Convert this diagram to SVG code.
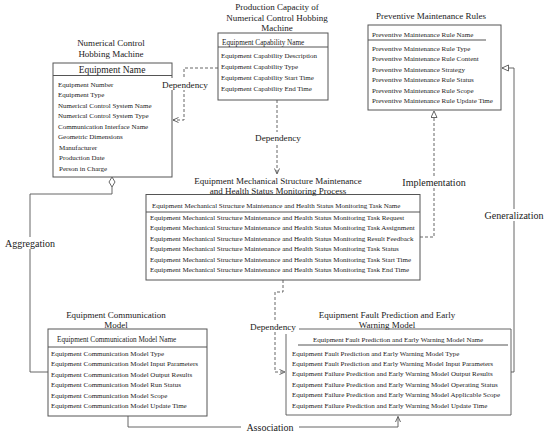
<svg xmlns="http://www.w3.org/2000/svg" width="550" height="437" viewBox="0 0 550 437">
<defs>
<style>
text{font-family:"Liberation Serif","Times New Roman",serif;fill:#1a1a1a}
.box{fill:#fff;stroke:#555;stroke-width:1}
.div{stroke:#555;stroke-width:1}
.t{font-size:9px;text-anchor:middle}
.h{font-size:7.2px}
.r{font-size:7px}
.lbl{font-size:10px;text-anchor:middle}
.dep{font-size:9.2px;text-anchor:middle}
.c{fill:none;stroke:#555;stroke-width:0.9}
.d{fill:none;stroke:#555;stroke-width:0.9;stroke-dasharray:3,2}
.bg{fill:#fff}
</style>
<marker id="open" markerWidth="7" markerHeight="6" refX="6" refY="3" orient="auto" markerUnits="userSpaceOnUse">
<path d="M0.5,0.5 L6,3 L0.5,5.5" fill="none" stroke="#555" stroke-width="0.9"/>
</marker>
<marker id="tri" markerWidth="8" markerHeight="8" refX="7" refY="3.5" orient="auto" markerUnits="userSpaceOnUse">
<path d="M0.5,0.5 L7,3.5 L0.5,6.5 Z" fill="#fff" stroke="#555" stroke-width="0.9"/>
</marker>
</defs>
<rect width="550" height="437" fill="#fff"/>

<g id="node-hobbing-machine">
<text class="t" x="111" y="46">Numerical Control</text>
<text class="t" x="111" y="56.5">Hobbing Machine</text>
<rect class="box" x="53" y="63" width="119" height="114"/>
<line class="div" x1="53" y1="75.5" x2="172" y2="75.5"/>
<text x="112" y="72.5" style="font-size:9.5px;text-anchor:middle">Equipment Name</text>
<text class="r" x="58" y="86.5">Equipment Number</text>
<text class="r" x="58" y="97">Equipment Type</text>
<text class="r" x="58" y="107.5">Numerical Control System Name</text>
<text class="r" x="58" y="118">Numerical Control System Type</text>
<text class="r" x="58" y="128.5">Communication Interface Name</text>
<text class="r" x="58" y="139">Geometric Dimensions</text>
<text class="r" x="59" y="149.5">Manufacturer</text>
<text class="r" x="59" y="160">Production Date</text>
<text class="r" x="59" y="170.5">Person in Charge</text>
</g>

<g id="node-production-capacity">
<text class="t" x="277" y="10">Production Capacity of</text>
<text class="t" x="277" y="20.5">Numerical Control Hobbing</text>
<text class="t" x="277" y="31">Machine</text>
<rect class="box" x="218" y="33" width="110" height="67"/>
<line class="div" x1="218" y1="47" x2="328" y2="47"/>
<text class="h" x="222" y="44.5">Equipment Capability Name</text>
<text class="r" x="221" y="57.5">Equipment Capability Description</text>
<text class="r" x="221" y="68.5">Equipment Capability Type</text>
<text class="r" x="221" y="79.5">Equipment Capability Start Time</text>
<text class="r" x="221" y="90.5">Equipment Capability End Time</text>
</g>

<g id="node-preventive-rules">
<text class="t" x="431" y="19">Preventive Maintenance Rules</text>
<rect class="box" x="368" y="25" width="133" height="85"/>
<line class="div" x1="368" y1="40" x2="486" y2="40"/>
<text class="r" x="372" y="37">Preventive Maintenance Rule Name</text>
<text class="r" x="372" y="50.5">Preventive Maintenance Rule Type</text>
<text class="r" x="372" y="61">Preventive Maintenance Rule Content</text>
<text class="r" x="372" y="71.5">Preventive Maintenance Strategy</text>
<text class="r" x="372" y="82">Preventive Maintenance Rule Status</text>
<text class="r" x="372" y="92.5">Preventive Maintenance Rule Scope</text>
<text class="r" x="372" y="103">Preventive Maintenance Rule Update Time</text>
</g>

<g id="node-monitoring-process">
<text class="t" x="278" y="184">Equipment Mechanical Structure Maintenance</text>
<text class="t" x="278" y="194">and Health Status Monitoring Process</text>
<rect class="box" x="146" y="194.5" width="274" height="85.5" style="fill:none"/>
<line class="div" x1="146" y1="212" x2="420" y2="212"/>
<text class="r" x="152" y="207.5">Equipment Mechanical Structure Maintenance and Health Status Monitoring Task Name</text>
<text class="r" x="150" y="219.5">Equipment Mechanical Structure Maintenance and Health Status Monitoring Task Request</text>
<text class="r" x="150" y="230">Equipment Mechanical Structure Maintenance and Health Status Monitoring Task Assignment</text>
<text class="r" x="150" y="240.5">Equipment Mechanical Structure Maintenance and Health Status Monitoring Result Feedback</text>
<text class="r" x="150" y="251">Equipment Mechanical Structure Maintenance and Health Status Monitoring Task Status</text>
<text class="r" x="150" y="261.5">Equipment Mechanical Structure Maintenance and Health Status Monitoring Task Start Time</text>
<text class="r" x="150" y="272">Equipment Mechanical Structure Maintenance and Health Status Monitoring Task End Time</text>
</g>

<g id="node-communication-model">
<text class="t" x="116" y="318">Equipment Communication</text>
<text class="t" x="116" y="328">Model</text>
<rect class="box" x="48" y="329" width="159" height="87" style="fill:none"/>
<line class="div" x1="48" y1="347" x2="207" y2="347"/>
<text class="h" x="57" y="341.5">Equipment Communication Model Name</text>
<text class="r" x="51" y="355.5">Equipment Communication Model Type</text>
<text class="r" x="51" y="366">Equipment Communication Model Input Parameters</text>
<text class="r" x="51" y="376.5">Equipment Communication Model Output Results</text>
<text class="r" x="51" y="387">Equipment Communication Model Run Status</text>
<text class="r" x="51" y="397.5">Equipment Communication Model Scope</text>
<text class="r" x="51" y="408">Equipment Communication Model Update Time</text>
</g>

<g id="node-fault-prediction">
<text class="t" x="387" y="318">Equipment Fault Prediction and Early</text>
<text class="t" x="387" y="328">Warning Model</text>
<path class="c" d="M299,329 H511 V415 H286 V334"/>
<line class="div" x1="298" y1="345" x2="508" y2="345"/>
<text class="r" x="398" y="341.5" style="text-anchor:middle">Equipment Fault Prediction and Early Warning Model Name</text>
<text class="r" x="292" y="355.5">Equipment Fault Prediction and Early Warning Model Type</text>
<text class="r" x="292" y="366">Equipment Fault Prediction and Early Warning Model Input Parameters</text>
<text class="r" x="292" y="376">Equipment Failure Prediction and Early Warning Model Output Results</text>
<text class="r" x="292" y="386.5">Equipment Failure Prediction and Early Warning Model Operating Status</text>
<text class="r" x="292" y="397">Equipment Failure Prediction and Early Warning Model Applicable Scope</text>
<text class="r" x="292" y="408">Equipment Failure Prediction and Early Warning Model Update Time</text>
</g>

<g id="connectors">
<path class="d" d="M218,68 H184 V120 H173" marker-end="url(#open)"/>
<path class="d" d="M277,100 V174" marker-end="url(#open)"/>
<path class="d" d="M420,237 H434 V111" marker-end="url(#tri)"/>
<path class="c" d="M511,372 H514 V68 H502" marker-end="url(#tri)"/>
<polygon points="112,177 115,182 112,187 109,182" fill="#fff" stroke="#555" stroke-width="0.9"/>
<path class="c" d="M112,187 V194 H30 V372 H48"/>
<path class="d" d="M283,280 V292 H275 V372 H285" marker-end="url(#open)"/>
<path class="c" d="M128,416 V427 H398 V416.5" marker-end="url(#open)"/>
<rect class="bg" x="160" y="78" width="50" height="12"/>
<text class="dep" x="185" y="87.5">Dependency</text>
<rect class="bg" x="253" y="132" width="50" height="12"/>
<text class="dep" x="278" y="141">Dependency</text>
<rect class="bg" x="402" y="176" width="64" height="12"/>
<text class="lbl" x="434" y="185.5">Implementation</text>
<rect class="bg" x="484" y="209" width="60" height="12"/>
<text class="lbl" x="514" y="218.5">Generalization</text>
<rect class="bg" x="4" y="237" width="52" height="12"/>
<text class="lbl" x="30" y="246.5">Aggregation</text>
<rect class="bg" x="241" y="421" width="58" height="12"/>
<text class="lbl" x="270" y="430.5">Association</text>
<rect class="bg" x="248" y="320" width="50" height="12"/>
<text class="dep" x="273" y="329.5">Dependency</text>
</g>
</svg>
